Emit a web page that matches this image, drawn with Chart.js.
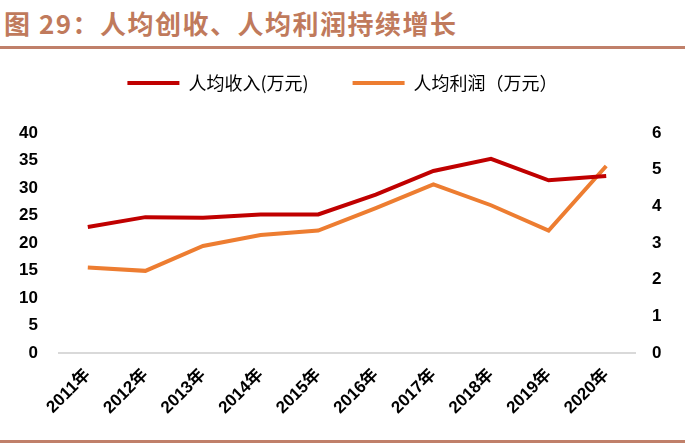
<!DOCTYPE html>
<html>
<head>
<meta charset="utf-8">
<script src="https://cdn.jsdelivr.net/npm/chart.js@4.4.0/dist/chart.umd.min.js"></script>
<style>
  body { margin: 0; background: #fff; width: 685px; height: 445px; overflow: hidden; position: relative; }
  #title { position: absolute; left: 4px; top: 5px; font: bold 26px "Noto Sans CJK SC", "Liberation Sans", sans-serif; line-height: 36px; color: #C07A5C; letter-spacing: 1.5px; white-space: nowrap; }
  #topline { position: absolute; left: 0; top: 46px; width: 685px; height: 3px; background: #C0806A; }
  #bottomline { position: absolute; left: 0; top: 440px; width: 685px; height: 3px; background: #C0806A; }
  #wrap { position: absolute; left: 0; top: 30px; width: 685px; height: 405px; }
</style>
</head>
<body>
<div id="title">图 29：人均创收、人均利润持续增长</div>
<div id="topline"></div>
<div id="wrap"><canvas id="chart"></canvas></div>
<div id="bottomline"></div>
<script>
// 数据
const years = ['2011年', '2012年', '2013年', '2014年', '2015年', '2016年', '2017年', '2018年', '2019年', '2020年'];
const revenuePerCapita = [22.9, 24.7, 24.6, 25.2, 25.2, 28.8, 33.1, 35.3, 31.4, 32.2];
const profitPerCapita = [2.33, 2.24, 2.92, 3.22, 3.34, 3.95, 4.6, 4.03, 3.34, 5.1];
const leftTicks = [0, 40, 5];
const rightTicks = [0, 6, 1];

const tickFont = { family: '"Liberation Sans", Arial, sans-serif', size: 17, weight: 'bold' };

// 图例下方留白
const legendSpace = {
    id: 'legendSpace',
    beforeInit(chart) {
        const fit = chart.legend.fit;
        chart.legend.fit = function() {
            fit.call(this);
            this.height += 31;
        };
    }
};

new Chart(document.getElementById('chart'), {
    type: 'line',
    data: {
        labels: years,
        datasets: [{
            label: '人均收入(万元)',
            data: revenuePerCapita,
            borderColor: '#C00000',
            backgroundColor: '#C00000',
            borderWidth: 4,
            pointRadius: 0,
            tension: 0,
            yAxisID: 'y'
        }, {
            label: '人均利润（万元）',
            data: profitPerCapita,
            borderColor: '#ED7D31',
            backgroundColor: '#ED7D31',
            borderWidth: 4,
            pointRadius: 0,
            tension: 0,
            yAxisID: 'y1'
        }]
    },
    options: {
        responsive: true,
        maintainAspectRatio: false,
        animation: false,
        layout: { padding: { top: 0, left: 0, right: 0, bottom: 0 } },
        plugins: {
            legend: {
                position: 'top',
                labels: {
                    boxWidth: 52,
                    boxHeight: 4,
                    padding: 44,
                    color: '#000',
                    font: { family: '"Noto Sans CJK SC", sans-serif', size: 18 },
                    generateLabels: function(chart) {
                        const items = Chart.defaults.plugins.legend.labels.generateLabels(chart);
                        items.forEach(function(it) { it.lineWidth = 0; });
                        return items;
                    }
                }
            },
            tooltip: { enabled: false }
        },
        scales: {
            x: {
                offset: true,
                grid: { display: false, drawTicks: false },
                border: { display: true, color: '#D9D9D9', width: 2 },
                ticks: {
                    color: '#000',
                    font: { family: '"Liberation Sans", "Noto Sans CJK SC", sans-serif', size: 17, weight: 'bold' },
                    maxRotation: 45,
                    minRotation: 45,
                    padding: 12
                },
                afterFit: function(scale) { scale.height = 82; }
            },
            y: {
                position: 'left',
                min: leftTicks[0],
                max: leftTicks[1],
                grid: { display: false, drawTicks: false },
                border: { display: false },
                ticks: { stepSize: leftTicks[2], color: '#000', font: tickFont, padding: 21 },
                afterFit: function(scale) { scale.width = 59; }
            },
            y1: {
                position: 'right',
                min: rightTicks[0],
                max: rightTicks[1],
                grid: { display: false, drawTicks: false },
                border: { display: false },
                ticks: { stepSize: rightTicks[2], color: '#000', font: tickFont, padding: 17 },
                afterFit: function(scale) { scale.width = 50; }
            }
        }
    },
    plugins: [legendSpace]
});
</script>
</body>
</html>
